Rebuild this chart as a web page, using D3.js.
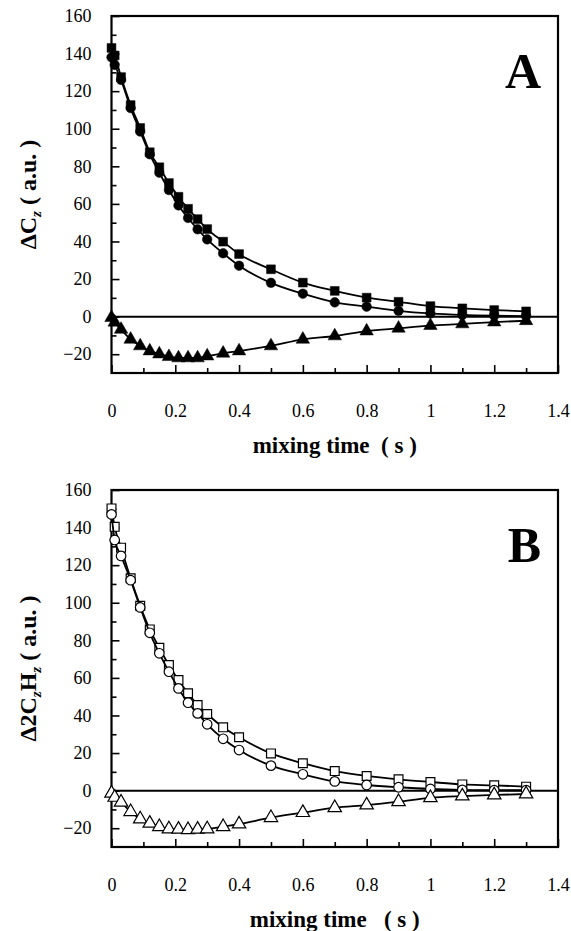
<!DOCTYPE html>
<html>
<head>
<meta charset="utf-8">
<script src="https://cdn.jsdelivr.net/npm/d3@7"></script>
<style>
  body { margin: 0; background: #fff; }
  .tick line { stroke: #000; stroke-width: 1.6; }
</style>
</head>
<body>
<svg></svg>
<script>
const svg = d3.select("svg");
svg.attr("width", 571);
svg.attr("height", 931);

const serif = "Liberation Serif, Times New Roman, serif";
svg.attr("font-family", serif);

// mixing times (s)
const times = [0, 0.01, 0.03, 0.06, 0.09, 0.12, 0.15, 0.18, 0.21, 0.24, 0.27, 0.30,
  0.35, 0.40, 0.50, 0.60, 0.70, 0.80, 0.90, 1.0, 1.1, 1.2, 1.3];

// panel A : ΔCz
const aSquares = [143, 139, 127.5, 112.6, 100.4, 87.5, 79.5, 71.1, 63.8, 57.4, 51.9, 46.6,
  39.9, 33.3, 25.2, 18.1, 13.7, 10.1, 7.9, 5.6, 4.4, 3.5, 2.8];
const aCircles = [138, 134, 126, 111, 98.5, 86.4, 76.6, 67.4, 59.2, 52.5, 46.5, 41.1,
  33.7, 27.1, 18.0, 12.2, 7.6, 5.3, 3.1, 1.7, 0.9, 0.5, 0.3];
const aTriangles = [-0.5, -3, -6.8, -12.1, -15.6, -18.3, -19.9, -21.3, -22, -22, -22, -21,
  -19.5, -18.3, -15.6, -12.1, -10.3, -7.7, -6.2, -4.8, -3.9, -2.9, -2.2];

// panel B : Δ2CzHz
const bSquares = [150.2, 140.4, 129.3, 113, 98.4, 85.8, 76, 66.8, 58.9, 51.8, 45.6, 40.8,
  33.7, 28.4, 19.8, 14.6, 10.4, 7.8, 6.0, 4.6, 3.3, 2.8, 2.1];
const bCircles = [147, 133.4, 124.9, 112, 97.5, 84, 73.1, 63.3, 54.4, 46.8, 41.1, 35.3,
  27.6, 21.6, 13.3, 8.7, 4.9, 3.0, 1.8, 0.9, 0.4, 0.2, 0.2];
const bTriangles = [-1.4, -3.6, -6.2, -11.2, -15.1, -17.4, -19.2, -20.4, -20.6, -20.8, -20.6, -20.4,
  -19.2, -17.8, -14.4, -11.7, -9.1, -7.7, -5.9, -3.8, -2.9, -2.3, -1.8];

const xMajor = [0, 0.2, 0.4, 0.6, 0.8, 1, 1.2, 1.4];
const xMinor = [0.1, 0.3, 0.5, 0.7, 0.9, 1.1, 1.3];
const yMajor = [-20, 0, 20, 40, 60, 80, 100, 120, 140, 160];
const yMinor = [-10, 10, 30, 50, 70, 90, 110, 130, 150];

const left = 111.5;
const right = 558;

const xScale = d3.scaleLinear().domain([0, 1.4]).range([left, right]);

const panels = [
  { letter: "A", top: 16, bottom: 373, open: false,
    series: [aSquares, aCircles, aTriangles] },
  { letter: "B", top: 490, bottom: 847, open: true,
    series: [bSquares, bCircles, bTriangles] },
];
const symbols = [d3.symbolSquare, d3.symbolCircle, d3.symbolTriangle];
const symbolSizes = [78, 72, 78];

const styleAxis = (sel) => {
  sel.attr("font-family", serif).attr("font-size", 18);
  sel.selectAll(".domain").remove();
  sel.selectAll("text").attr("font-family", serif).attr("fill", "#000");
};

const render = (p) => {
  const yScale = d3.scaleLinear().domain([-30, 160]).range([p.bottom, p.top]);
  const g = svg.append("g");

  // axes
  g.append("g").attr("transform", `translate(0, ${p.bottom})`)
    .call(d3.axisBottom(xScale).tickValues(xMajor).tickSizeInner(-8).tickSizeOuter(0)
      .tickPadding(31).tickFormat(d3.format("")))
    .call(styleAxis);
  g.append("g").attr("transform", `translate(0, ${p.bottom})`)
    .call(d3.axisBottom(xScale).tickValues(xMinor).tickSizeInner(-5).tickSizeOuter(0)
      .tickFormat(""))
    .call(styleAxis);

  g.append("g").attr("transform", `translate(${left}, 0)`)
    .call(d3.axisLeft(yScale).tickValues(yMajor).tickSizeInner(-8).tickSizeOuter(0)
      .tickPadding(20))
    .call(styleAxis);
  g.append("g").attr("transform", `translate(${left}, 0)`)
    .call(d3.axisLeft(yScale).tickValues(yMinor).tickSizeInner(-5).tickSizeOuter(0)
      .tickFormat(""))
    .call(styleAxis);

  // frame and zero line
  g.append("rect")
    .attr("x", left).attr("y", p.top)
    .attr("width", right - left).attr("height", p.bottom - p.top)
    .attr("fill", "none").attr("stroke", "#000").attr("stroke-width", 2.2);
  g.append("line")
    .attr("x1", left).attr("x2", right)
    .attr("y1", yScale(0)).attr("y2", yScale(0))
    .attr("stroke", "#000").attr("stroke-width", 2);

  // curves and markers
  const line = d3.line()
    .x((d, i) => xScale(times[i]))
    .y((d) => yScale(d))
    .curve(d3.curveMonotoneX);

  p.series.forEach((values, k) => {
    g.append("path")
      .attr("d", line(values))
      .attr("fill", "none")
      .attr("stroke", "#000")
      .attr("stroke-width", 1.8);
    g.selectAll(null)
      .data(values)
      .enter()
      .append("path")
      .attr("transform", (d, i) => `translate(${xScale(times[i])}, ${yScale(d)})`)
      .attr("d", d3.symbol().type(symbols[k]).size(symbolSizes[k]))
      .attr("fill", p.open ? "#fff" : "#000")
      .attr("stroke", "#000")
      .attr("stroke-width", p.open ? 1.2 : 0.5);
  });

  // panel letter
  g.append("text")
    .attr("x", 541).attr("y", p.top + 72)
    .attr("text-anchor", "end")
    .attr("font-size", 50).attr("font-weight", "bold")
    .text(p.letter);

  // x title
  g.append("text")
    .attr("x", (left + right) / 2).attr("y", p.bottom + 80)
    .attr("text-anchor", "middle")
    .attr("font-size", 23).attr("font-weight", "bold")
    .style("white-space", "pre")
    .text(p.open ? "mixing time   ( s )" : "mixing time  ( s )");

  // y title
  const yt = g.append("text")
    .attr("transform", `translate(36, ${(p.top + p.bottom) / 2}) rotate(-90)`)
    .attr("text-anchor", "middle")
    .attr("font-size", 24).attr("font-weight", "bold")
    .style("white-space", "pre");
  if (!p.open) {
    yt.append("tspan").text("ΔC");
    yt.append("tspan").attr("font-size", 15).attr("font-style", "italic").attr("dy", 5).text("z");
    yt.append("tspan").attr("dy", -5).text(" ( a.u. )");
  } else {
    yt.append("tspan").text("Δ2C");
    yt.append("tspan").attr("font-size", 15).attr("font-style", "italic").attr("dy", 5).text("z");
    yt.append("tspan").attr("dy", -5).text("H");
    yt.append("tspan").attr("font-size", 15).attr("font-style", "italic").attr("dy", 5).text("z");
    yt.append("tspan").attr("dy", -5).text(" ( a.u. )");
  }
};

panels.forEach(render);
</script>
</body>
</html>
